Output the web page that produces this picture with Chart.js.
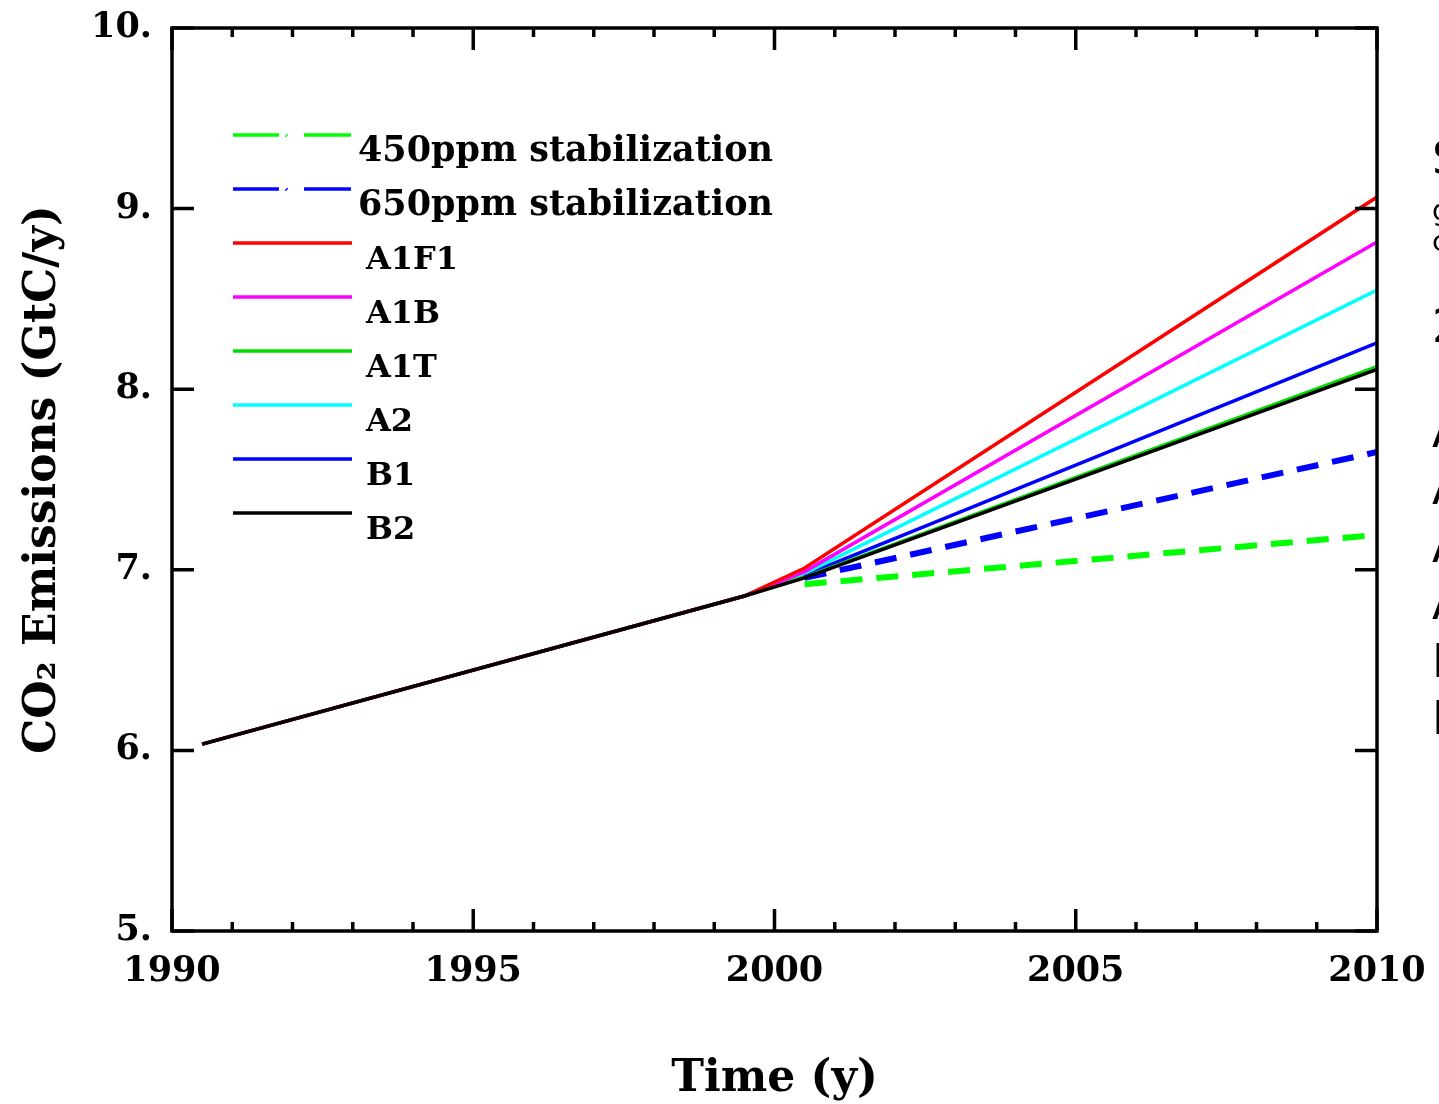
<!DOCTYPE html>
<html>
<head>
<meta charset="utf-8">
<script src="https://cdn.jsdelivr.net/npm/chart.js@4.4.0/dist/chart.umd.min.js"></script>
<style>
  html, body { margin: 0; padding: 0; background: #fff; }
  #wrap { width: 1439px; height: 1104px; position: relative; }
</style>
</head>
<body>
<div id="wrap"><canvas id="co2Chart" width="1439" height="1104"></canvas></div>
<script>
// Shared history (mid-year points)
const histYears = [1990.5, 1999.5];
const histValues = [6.035, 6.855];

// Scenario points
const scenarioYears = [2000.5, 2010];
const a1f1 = [7.01, 9.064];
const a1b = [6.99, 8.815];
const a1t = [6.96, 8.125];
const a2 = [6.98, 8.549];
const b1 = [6.97, 8.256];
const b2 = [6.955, 8.11];
const stab650 = [6.955, 7.652];
const stab450 = [6.92, 7.193];

// Axis ticks
const xMajorTicks = [1990, 1995, 2000, 2005, 2010];
const xMinorTicks = [1991, 1992, 1993, 1994, 1996, 1997, 1998, 1999, 2001, 2002, 2003, 2004, 2006, 2007, 2008, 2009];
const yMajorTicks = [5, 6, 7, 8, 9, 10];

// Clipped text block on the right edge
const sideBig = [
  { text: "SRES", y: 174 },
  { text: "2000-2100", y: 342 },
  { text: "A1F1", y: 447 },
  { text: "A1B", y: 504 },
  { text: "A1T", y: 562 },
  { text: "A2", y: 619 },
  { text: "B1", y: 677 },
  { text: "B2", y: 734 },
];
const sideSmall = [
  { text: "global emissions", y: 220 },
  { text: "carbon", y: 251 },
];

const serif = "'DejaVu Serif', serif";

function toPoints(xs, ys) {
  return xs.map((x, i) => ({ x: x, y: ys[i] }));
}
function scenarioSeries(vals) {
  return toPoints(histYears, histValues).concat(toPoints(scenarioYears, vals));
}

const datasets = [
  { label: "450ppm stabilization", data: toPoints(scenarioYears, stab450), borderColor: "#00ff00", borderWidth: 6, borderDash: [22, 14], dashed: true, order: 1 },
  { label: "650ppm stabilization", data: toPoints(scenarioYears, stab650), borderColor: "#0000ff", borderWidth: 6, borderDash: [22, 14], dashed: true, order: 1 },
  { label: "A1F1", data: scenarioSeries(a1f1), borderColor: "#ff0000", borderWidth: 3.5, order: 2 },
  { label: "A1B", data: scenarioSeries(a1b), borderColor: "#ff00ff", borderWidth: 3.5, order: 2 },
  { label: "A1T", data: scenarioSeries(a1t), borderColor: "#00dd00", borderWidth: 3.5, order: 2 },
  { label: "A2", data: scenarioSeries(a2), borderColor: "#00ffff", borderWidth: 3.5, order: 2 },
  { label: "B1", data: scenarioSeries(b1), borderColor: "#0000ff", borderWidth: 3.5, order: 2 },
  { label: "B2", data: scenarioSeries(b2), borderColor: "#000000", borderWidth: 3.5, order: 0 },
];
datasets.forEach((d) => {
  d.pointRadius = 0;
  d.fill = false;
  d.tension = 0;
  d.backgroundColor = d.borderColor;
});

// frame, inward ticks, titles, legend and the cut-off text on the right
const decorations = {
  id: "decorations",
  afterDraw(chart) {
    const ctx = chart.ctx;
    const area = chart.chartArea;
    const xs = chart.scales.x;
    const ys = chart.scales.y;
    ctx.save();

    // frame
    ctx.strokeStyle = "#000";
    ctx.lineWidth = 3.5;
    ctx.strokeRect(area.left, area.top, area.right - area.left, area.bottom - area.top);

    // ticks
    ctx.lineWidth = 3.5;
    ctx.beginPath();
    const xTick = (v, len) => {
      const px = xs.getPixelForValue(v);
      ctx.moveTo(px, area.bottom); ctx.lineTo(px, area.bottom - len);
      ctx.moveTo(px, area.top); ctx.lineTo(px, area.top + len);
    };
    xMajorTicks.forEach((v) => xTick(v, 22));
    xMinorTicks.forEach((v) => xTick(v, 9));
    yMajorTicks.forEach((v) => {
      const py = ys.getPixelForValue(v);
      ctx.moveTo(area.left, py); ctx.lineTo(area.left + 22, py);
      ctx.moveTo(area.right, py); ctx.lineTo(area.right - 22, py);
    });
    ctx.stroke();

    // axis titles
    ctx.fillStyle = "#000";
    ctx.font = "bold 44px " + serif;
    ctx.textAlign = "center";
    ctx.textBaseline = "middle";
    ctx.fillText("Time (y)", (area.left + area.right) / 2, 1080);
    ctx.save();
    ctx.translate(44, (area.top + area.bottom) / 2);
    ctx.rotate(-Math.PI / 2);
    ctx.fillText("CO\u2082 Emissions (GtC/y)", 0, 0);
    ctx.restore();

    // legend
    ctx.textAlign = "left";
    ctx.textBaseline = "alphabetic";
    const rowY = [135, 189, 243, 297, 351, 405, 459, 513];
    chart.data.datasets.forEach((d, i) => {
      const y = rowY[i];
      ctx.strokeStyle = d.borderColor;
      ctx.lineWidth = 3.5;
      ctx.beginPath();
      if (d.dashed) {
        ctx.moveTo(233, y); ctx.lineTo(279, y);
        ctx.moveTo(286, y); ctx.lineTo(287, y + 1);
        ctx.moveTo(304, y); ctx.lineTo(351, y);
      } else {
        ctx.moveTo(233, y); ctx.lineTo(352, y);
      }
      ctx.stroke();
      ctx.fillStyle = "#000";
      ctx.font = (d.dashed ? "bold 35px " : "bold 32px ") + serif;
      ctx.fillText(d.label, d.dashed ? 358 : 366, y + 26);
    });

    // text cut by the right edge of the picture
    ctx.font = "46px 'DejaVu Sans', sans-serif";
    sideBig.forEach((t) => ctx.fillText(t.text, 1432, t.y));
    ctx.font = "28px 'DejaVu Sans', sans-serif";
    sideSmall.forEach((t) => ctx.fillText(t.text, 1432, t.y));

    ctx.restore();
  },
};

const tickFont = { family: serif, size: 35, weight: "bold" };

new Chart(document.getElementById("co2Chart"), {
  type: "line",
  data: { datasets },
  plugins: [decorations],
  options: {
    responsive: false,
    animation: false,
    layout: { padding: { top: 28, right: 62, left: 0, bottom: 0 } },
    plugins: { legend: { display: false }, tooltip: { enabled: false } },
    scales: {
      x: {
        type: "linear",
        min: 1990,
        max: 2010,
        border: { display: false },
        grid: { display: false, drawTicks: false },
        ticks: {
          stepSize: 5,
          color: "#000",
          font: tickFont,
          padding: 20,
          maxRotation: 0,
          callback: (v) => String(v),
        },
        afterFit: (s) => {
          s.height = 173;
          s.paddingLeft = 0;
          s.paddingRight = 0;
        },
      },
      y: {
        type: "linear",
        min: 5,
        max: 10,
        border: { display: false },
        grid: { display: false, drawTicks: false },
        ticks: {
          stepSize: 1,
          color: "#000",
          font: tickFont,
          padding: 20,
          callback: (v) => v + ".",
        },
        afterFit: (s) => {
          s.width = 172;
          s.paddingTop = 0;
          s.paddingBottom = 0;
        },
      },
    },
  },
});
</script>
</body>
</html>
